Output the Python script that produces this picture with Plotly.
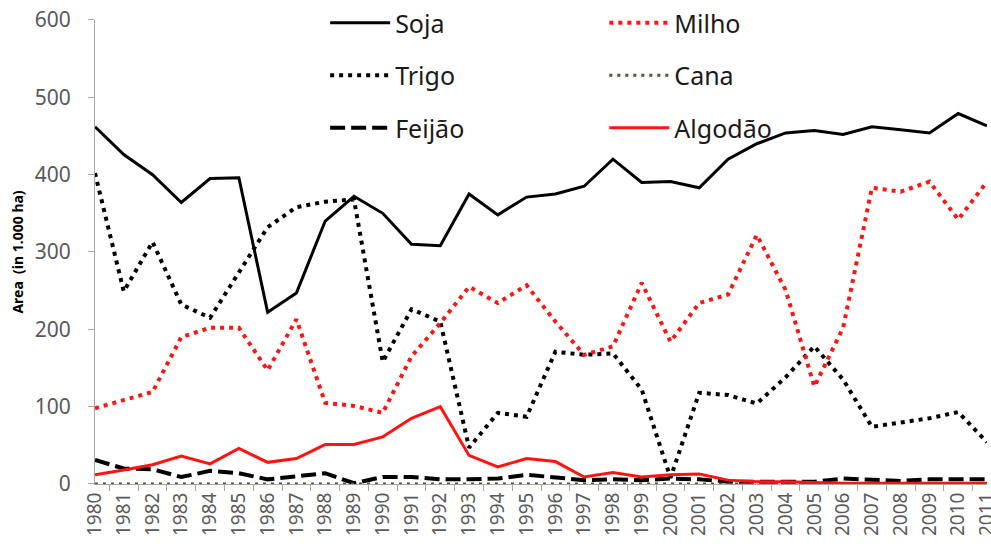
import plotly.graph_objects as go

years = [str(y) for y in range(1980, 2012)]

soja = [462, 426, 400, 364, 395, 396, 222, 247, 340, 372, 350, 310, 308, 375, 348, 371,
        375, 385, 420, 390, 391, 383, 420, 440, 454, 457, 452, 462, 458, 454, 479, 463]
milho = [98, 108, 119, 190, 202, 202, 147, 213, 105, 101, 92, 165, 208, 255, 234, 257,
         210, 167, 178, 260, 184, 234, 245, 322, 251, 126, 202, 383, 378, 391, 342, 391]
trigo = [402, 249, 313, 232, 215, 274, 332, 358, 365, 368, 158, 226, 210, 47, 92, 87,
         171, 167, 169, 122, 8, 118, 115, 104, 138, 178, 135, 74, 80, 85, 93, 54]
cana = [0] * 32
feijao = [31, 20, 19, 9, 17, 14, 6, 10, 14, 1, 9, 9, 6, 6, 7, 12,
          8, 5, 6, 5, 7, 6, 3, 3, 3, 3, 7, 6, 4, 6, 6, 6]
algodao = [12, 18, 25, 36, 26, 46, 28, 33, 51, 51, 61, 85, 100, 37, 22, 33,
           29, 9, 15, 9, 12, 13, 5, 3, 3, 2, 1, 1, 1, 1, 1, 1]

series = [
    # name, values, colour, dash, width, legend
    ("Soja", soja, "black", "solid", 3, "legend"),
    ("Trigo", trigo, "black", "4px,5px", 4, "legend"),
    ("Feijão", feijao, "black", "15px,6px", 4, "legend"),
    ("Milho", milho, "#ff1414", "4px,5px", 4, "legend2"),
    ("Cana", cana, "#4a5a30", "3px,5px", 3, "legend2"),
    ("Algodão", algodao, "#ff1414", "solid", 3, "legend2"),
]

fig = go.Figure()
for name, vals, color, dash, width, leg in series:
    fig.add_trace(go.Scatter(
        x=years, y=vals, name=name, mode="lines", legend=leg, legendgroup=name,
        line=dict(color=color, dash=dash, width=width),
    ))

# top margin is 0 and the y domain stops short of 1, so the legends sit
# inside the paper area and don't push the margins
legend_style = dict(
    font=dict(size=25, color="#1a1a1a", family="Noto Sans"),
    bgcolor="rgba(0,0,0,0)", itemwidth=60, tracegroupgap=17,
    yanchor="top", y=1.0, xanchor="left",
)

fig.update_layout(
    width=991, height=546,
    margin=dict(l=95, r=4, t=0, b=62),
    paper_bgcolor="white", plot_bgcolor="white",
    font=dict(family="Noto Sans", color="#595959"),
    legend=dict(x=0.258, **legend_style),
    legend2=dict(x=0.571, **legend_style),
    xaxis=dict(
        type="category", tickangle=-90, tickson="boundaries", automargin=False,
        ticks="outside", ticklen=6, tickcolor="#a6a6a6",
        showline=True, linecolor="#a6a6a6", linewidth=1,
        showgrid=False, tickfont=dict(size=19, color="#595959"),
    ),
    yaxis=dict(
        range=[0, 600], dtick=100, domain=[0, 0.9587],
        ticks="outside", ticklen=6, tickcolor="#a6a6a6",
        showline=True, linecolor="#a6a6a6", linewidth=1, showgrid=False, automargin=False,
        zeroline=False, tickfont=dict(size=21, color="#595959"), ticklabelstandoff=13,
        title=dict(text="<b>Area  (in 1.000 ha)</b>", font=dict(size=14, color="black"), standoff=7),
    ),
)

# drop the default 8px body margin so the figure sits at the page corner
fig.write_html(
    "out.html",
    config={"displayModeBar": False},
    post_script="document.body.style.margin='0px';",
)
